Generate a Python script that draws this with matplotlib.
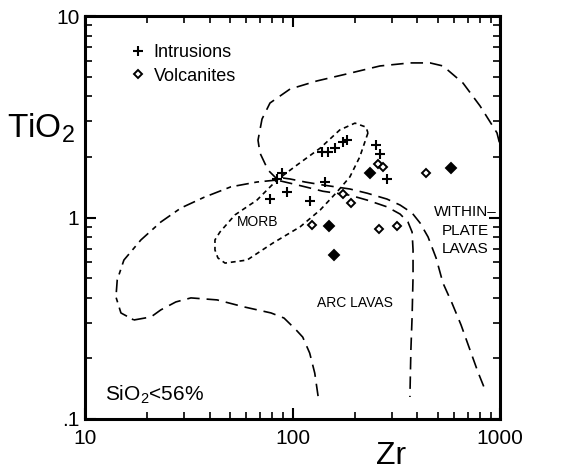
import matplotlib
matplotlib.use("Agg")
from matplotlib import pyplot as plt
from matplotlib import font_manager as fm

# ---- sample analyses (Zr ppm, TiO2 wt%) ----
intr_zr = [77.9, 84.2, 89.0, 94.1, 121, 143, 139, 148, 160, 175, 183, 252, 264, 285]
intr_ti = [1.24, 1.55, 1.66, 1.34, 1.21, 1.50, 2.11, 2.11, 2.21, 2.37, 2.42, 2.29, 2.07, 1.55]

volc_zr = [175, 191, 124, 261, 319, 258, 273, 440]
volc_ti = [1.31, 1.18, 0.92, 0.88, 0.91, 1.84, 1.78, 1.66]

# overprinted volcanite symbols (appear solid)
volc_dense_zr = [150, 236, 580, 158]
volc_dense_ti = [0.91, 1.66, 1.76, 0.65]

# ---- discrimination field boundaries ----
morb_zr = [231, 211, 189, 164, 136, 109, 80.5, 60.4, 47.3, 43.7, 42.3, 42.3, 44.7,
           52.8, 67.4, 84.2, 105, 136, 169, 200, 226, 231]
morb_ti = [2.63, 2.00, 1.59, 1.34, 1.09, 0.90, 0.747, 0.615, 0.594, 0.630, 0.690,
           0.774, 0.847, 1.03, 1.22, 1.535, 1.82, 2.21, 2.72, 2.94, 2.81, 2.63]

wp_zr = [85.1, 76.2, 69.7, 68.2, 71.3, 77.9, 97.3, 131, 183, 264, 368, 460, 531,
         663, 801, 967, 1000]
wp_ti = [1.535, 1.72, 2.09, 2.42, 3.08, 3.70, 4.34, 4.76, 5.16, 5.65, 5.85, 5.85,
         5.65, 4.65, 3.58, 2.63, 2.29]

wpl_zr = [90.0, 97.3, 115, 140, 189, 229, 285, 330, 377, 412, 450, 492, 531, 587,
          649, 717, 783, 856]
wpl_ti = [1.57, 1.553, 1.50, 1.45, 1.385, 1.32, 1.235, 1.153, 1.053, 0.939, 0.801,
          0.63, 0.473, 0.376, 0.293, 0.220, 0.171, 0.136]

arc_loop_zr = [84.2, 67.4, 50.5, 37.5, 29.0, 23.2, 18.6, 15.4, 14.3, 14.1, 14.9, 17.2]
arc_loop_ti = [1.535, 1.50, 1.42, 1.26, 1.115, 0.95, 0.774, 0.615, 0.49, 0.403, 0.336, 0.31]

arc_low_zr = [17.2, 20.8, 23.2, 27.4, 32.4, 43.3, 58.4, 78.8, 91.0, 104, 112, 121, 128, 133]
arc_low_ti = [0.31, 0.321, 0.348, 0.381, 0.399, 0.39, 0.36, 0.336, 0.317, 0.277,
              0.255, 0.2125, 0.169, 0.1286]

arc_right_zr = [87.1, 97.3, 115, 140, 189, 229, 285, 330, 360, 377, 381, 381, 377, 372, 368]
arc_right_ti = [1.52, 1.48, 1.42, 1.35, 1.29, 1.22, 1.13, 1.04, 0.95, 0.847, 0.69,
                0.507, 0.321, 0.22, 0.1286]

yticks = [0.1, 1, 10]
yticklabels = ['.1', '1', '10']
xticks = [10, 100, 1000]
xticklabels = ['10', '100', '1000']

names = {f.name for f in fm.fontManager.ttflist}
FONT = 'Liberation Sans' if 'Liberation Sans' in names else 'DejaVu Sans'
plt.rcParams['font.family'] = [FONT, 'DejaVu Sans']
plt.rcParams['lines.scale_dashes'] = False

LONG = (9, 5)
SHORT = (3.5, 2.8)
DASHDOT = (9, 4, 3.5, 4)
LW = 1.2

fig = plt.figure(figsize=(5.65, 4.72), dpi=100)
ax = fig.add_axes([85 / 565, 53 / 472, 415 / 565, 403 / 472])
ax.set_xscale('log')
ax.set_yscale('log')
ax.set_xlim(10, 1000)
ax.set_ylim(0.1, 10)

for zr, ti, dash in [(morb_zr, morb_ti, SHORT), (wp_zr, wp_ti, LONG),
                     (wpl_zr, wpl_ti, LONG), (arc_loop_zr, arc_loop_ti, DASHDOT),
                     (arc_low_zr, arc_low_ti, LONG), (arc_right_zr, arc_right_ti, LONG)]:
    ln, = ax.plot(zr, ti, color='black', lw=LW)
    ln.set_dashes(dash)

h1, = ax.plot(intr_zr, intr_ti, ls='none', marker='+', ms=7, mew=1.5,
              color='black', label='Intrusions')
h2, = ax.plot(volc_zr, volc_ti, ls='none', marker='D', ms=4.2, mew=1.4,
              mfc='white', mec='black', label='Volcanites')
ax.plot(volc_dense_zr, volc_dense_ti, ls='none', marker='D', ms=5, mew=1.4,
        mfc='black', mec='black')

ax.legend(handles=[h1, h2], loc='upper left', bbox_to_anchor=(0.105, 0.93),
          frameon=False, fontsize=13, handlelength=1.0, handletextpad=0.4,
          borderpad=0, borderaxespad=0, labelspacing=0.35, numpoints=1)

ax.text(68, 0.95, 'MORB', fontsize=10, ha='center', va='center')
ax.text(200, 0.376, 'ARC LAVAS', fontsize=10, ha='center', va='center')
ax.text(680, 0.86, 'WITHIN\u2013\nPLATE\nLAVAS', fontsize=11, ha='center',
        va='center', linespacing=1.4)
ax.text(0.048, 0.06, r'SiO$_\mathregular{2}$<56%', transform=ax.transAxes,
        fontsize=15, ha='left', va='center')

ax.set_xticks(xticks)
ax.set_xticklabels(xticklabels)
ax.set_yticks(yticks)
ax.set_yticklabels(yticklabels)
ax.tick_params(which='both', direction='in', top=True, right=True, labelsize=15)
ax.tick_params(which='major', length=8, width=1.5, pad=4)
ax.tick_params(axis='x', which='major', pad=7)
ax.tick_params(which='minor', length=5, width=1.2)
for s in ax.spines.values():
    s.set_linewidth(2.2)

ax.set_xlabel('Zr', fontsize=23, va='baseline')
ax.xaxis.set_label_coords(0.738, -0.112)
ax.set_ylabel(r'TiO$_\mathregular{2}$', fontsize=24, rotation=0, ha='right', va='center')
ax.yaxis.set_label_coords(-0.024, 0.722)

fig.savefig('out.png', dpi=100)
